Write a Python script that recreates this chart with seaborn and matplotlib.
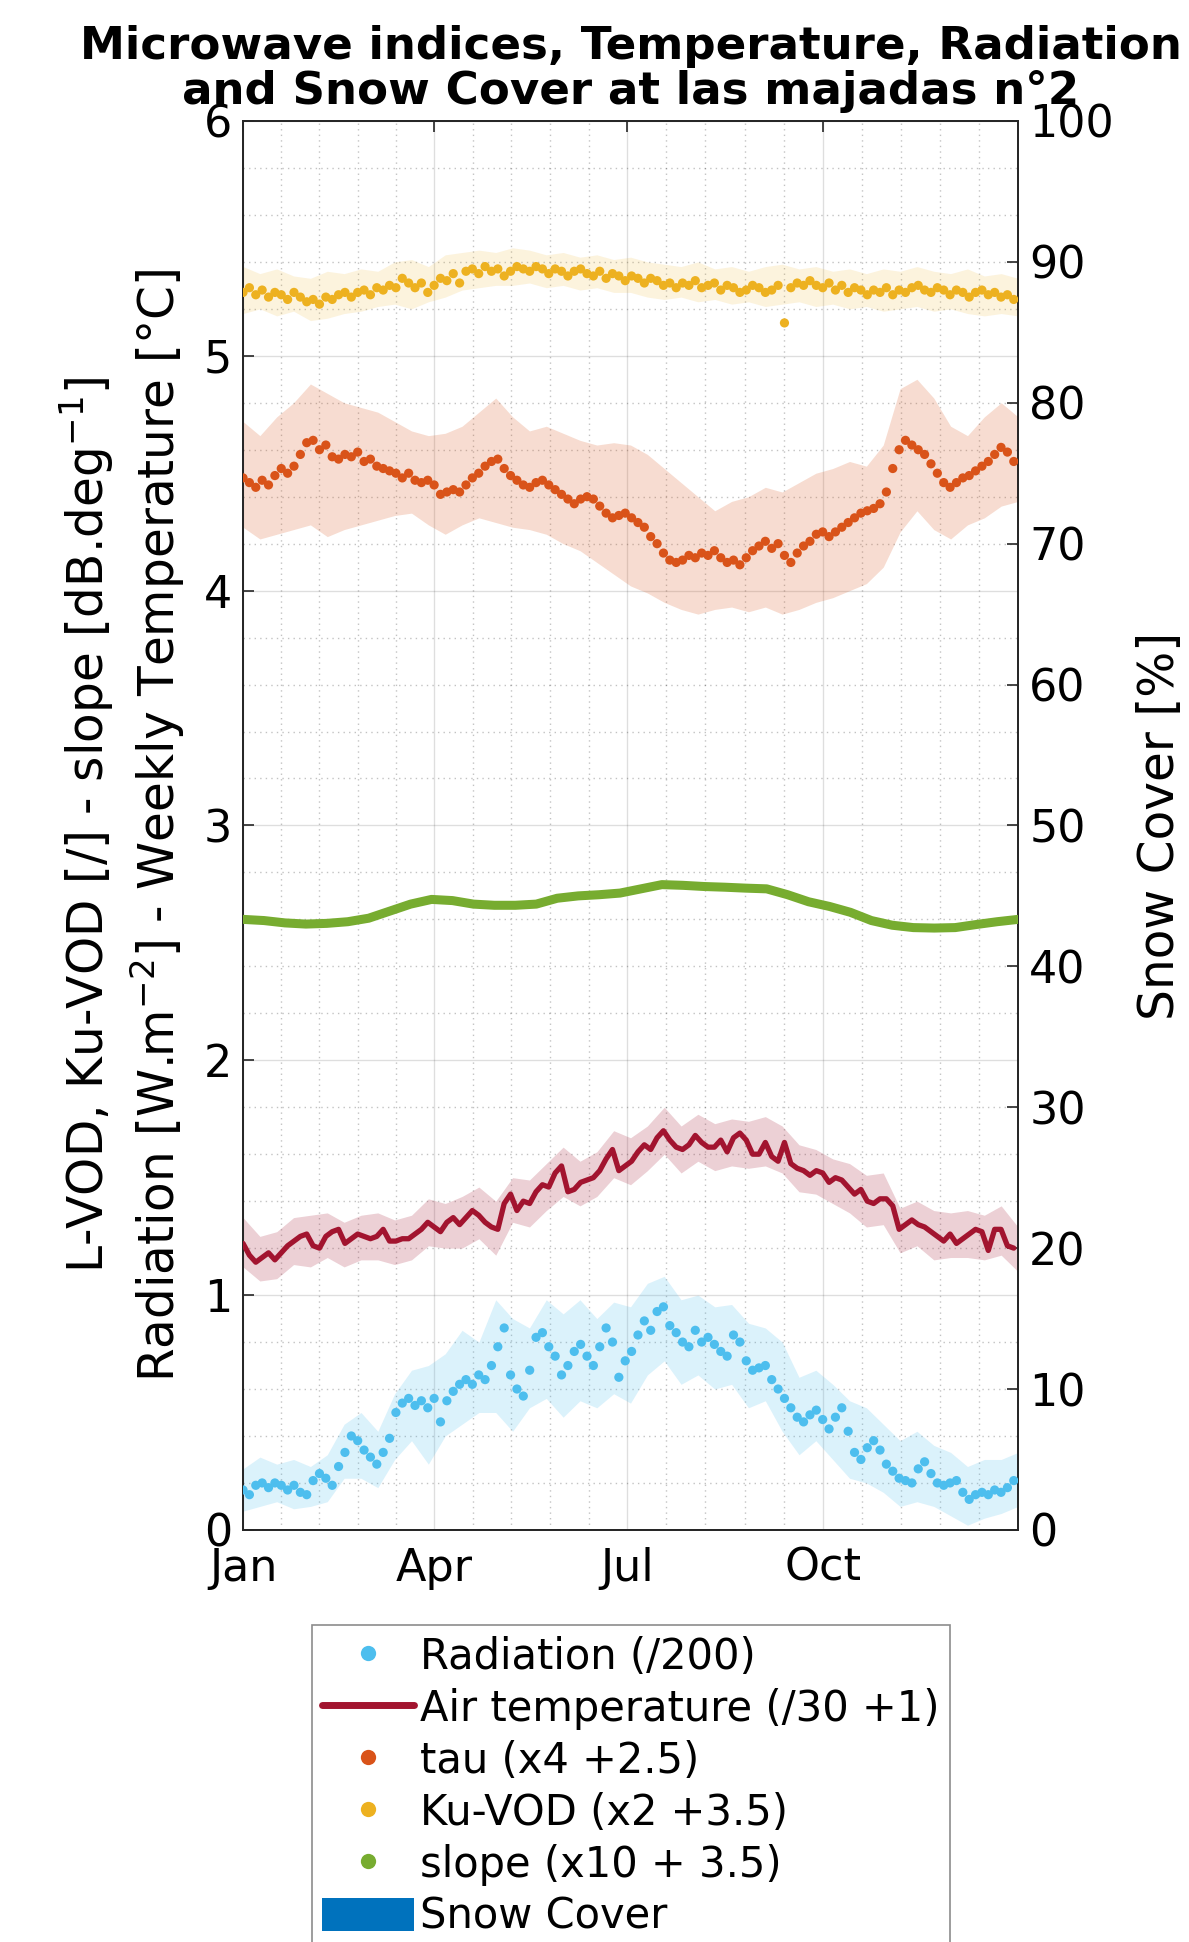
import numpy as np
import matplotlib
matplotlib.use("Agg")
import matplotlib.pyplot as plt
import seaborn as sns
from matplotlib.lines import Line2D
from matplotlib.patches import Patch
from matplotlib.ticker import MultipleLocator, FixedLocator

# ---------------------------------------------------------------- data
# daily-climatology samples, every 3 days (day of year, 0 = 1 Jan)
dot_day = np.arange(0, 366, 3)

radiation = [
    0.17, 0.15, 0.19, 0.20, 0.18, 0.20, 0.19, 0.17, 0.19, 0.16,
    0.15, 0.21, 0.24, 0.22, 0.19, 0.27, 0.33, 0.40, 0.38, 0.34,
    0.31, 0.28, 0.33, 0.39, 0.50, 0.54, 0.56, 0.53, 0.55, 0.52,
    0.56, 0.46, 0.55, 0.59, 0.62, 0.64, 0.62, 0.66, 0.64, 0.70,
    0.78, 0.86, 0.66, 0.60, 0.57, 0.68, 0.82, 0.84, 0.78, 0.74,
    0.66, 0.70, 0.76, 0.79, 0.74, 0.70, 0.78, 0.86, 0.80, 0.65,
    0.72, 0.76, 0.83, 0.89, 0.85, 0.93, 0.95, 0.87, 0.84, 0.80,
    0.78, 0.85, 0.80, 0.82, 0.79, 0.76, 0.74, 0.83, 0.80, 0.72,
    0.68, 0.69, 0.70, 0.64, 0.60, 0.56, 0.52, 0.48, 0.46, 0.49,
    0.51, 0.47, 0.43, 0.48, 0.52, 0.42, 0.33, 0.30, 0.35, 0.38,
    0.34, 0.28, 0.25, 0.22, 0.21, 0.20, 0.26, 0.29, 0.24, 0.20,
    0.19, 0.20, 0.21, 0.16, 0.13, 0.15, 0.16, 0.15, 0.17, 0.16,
    0.18, 0.21,
]

air_temp = [
    1.22, 1.17, 1.14, 1.16, 1.18, 1.15, 1.18, 1.21, 1.23, 1.25,
    1.26, 1.21, 1.20, 1.25, 1.27, 1.28, 1.22, 1.24, 1.26, 1.25,
    1.24, 1.25, 1.28, 1.23, 1.23, 1.24, 1.24, 1.26, 1.28, 1.31,
    1.29, 1.27, 1.31, 1.33, 1.30, 1.33, 1.36, 1.34, 1.31, 1.29,
    1.28, 1.39, 1.43, 1.36, 1.40, 1.39, 1.44, 1.47, 1.46, 1.52,
    1.55, 1.44, 1.45, 1.48, 1.49, 1.50, 1.53, 1.58, 1.62, 1.53,
    1.55, 1.57, 1.61, 1.64, 1.62, 1.67, 1.70, 1.66, 1.63, 1.62,
    1.64, 1.68, 1.65, 1.63, 1.63, 1.66, 1.61, 1.67, 1.69, 1.66,
    1.60, 1.60, 1.65, 1.59, 1.57, 1.65, 1.56, 1.54, 1.53, 1.51,
    1.53, 1.52, 1.48, 1.50, 1.49, 1.46, 1.43, 1.45, 1.40, 1.39,
    1.41, 1.41, 1.38, 1.28, 1.30, 1.32, 1.30, 1.29, 1.27, 1.25,
    1.23, 1.26, 1.22, 1.24, 1.26, 1.28, 1.27, 1.19, 1.28, 1.28,
    1.21, 1.20,
]

tau = [
    4.48, 4.46, 4.44, 4.47, 4.45, 4.49, 4.52, 4.50, 4.53, 4.58,
    4.63, 4.64, 4.60, 4.62, 4.57, 4.56, 4.58, 4.57, 4.59, 4.55,
    4.56, 4.53, 4.52, 4.51, 4.50, 4.48, 4.50, 4.47, 4.46, 4.47,
    4.45, 4.41, 4.42, 4.43, 4.42, 4.45, 4.48, 4.50, 4.53, 4.55,
    4.56, 4.52, 4.49, 4.47, 4.45, 4.44, 4.46, 4.47, 4.45, 4.43,
    4.41, 4.39, 4.37, 4.39, 4.40, 4.39, 4.36, 4.33, 4.31, 4.32,
    4.33, 4.31, 4.29, 4.27, 4.23, 4.20, 4.16, 4.13, 4.12, 4.13,
    4.15, 4.14, 4.16, 4.15, 4.17, 4.14, 4.12, 4.13, 4.11, 4.14,
    4.17, 4.19, 4.21, 4.18, 4.20, 4.15, 4.12, 4.16, 4.19, 4.21,
    4.24, 4.25, 4.23, 4.25, 4.27, 4.29, 4.31, 4.33, 4.34, 4.35,
    4.37, 4.42, 4.52, 4.60, 4.64, 4.62, 4.60, 4.58, 4.54, 4.50,
    4.46, 4.44, 4.46, 4.48, 4.49, 4.51, 4.53, 4.55, 4.58, 4.61,
    4.59, 4.55,
]

ku_vod = [
    5.27, 5.29, 5.26, 5.28, 5.25, 5.27, 5.26, 5.24, 5.27, 5.25,
    5.23, 5.24, 5.22, 5.25, 5.24, 5.26, 5.27, 5.25, 5.27, 5.28,
    5.26, 5.29, 5.28, 5.30, 5.29, 5.33, 5.31, 5.29, 5.31, 5.27,
    5.30, 5.33, 5.32, 5.35, 5.31, 5.36, 5.37, 5.35, 5.38, 5.36,
    5.37, 5.34, 5.36, 5.38, 5.37, 5.36, 5.38, 5.37, 5.35, 5.37,
    5.36, 5.34, 5.36, 5.37, 5.35, 5.34, 5.36, 5.33, 5.35, 5.34,
    5.32, 5.34, 5.33, 5.31, 5.33, 5.32, 5.30, 5.31, 5.29, 5.31,
    5.30, 5.32, 5.29, 5.30, 5.31, 5.28, 5.30, 5.29, 5.27, 5.28,
    5.30, 5.29, 5.27, 5.28, 5.30, 5.14, 5.29, 5.31, 5.30, 5.32,
    5.30, 5.29, 5.31, 5.28, 5.30, 5.27, 5.29, 5.28, 5.26, 5.28,
    5.27, 5.29, 5.26, 5.28, 5.27, 5.29, 5.30, 5.28, 5.27, 5.29,
    5.28, 5.26, 5.28, 5.27, 5.25, 5.27, 5.28, 5.26, 5.27, 5.25,
    5.26, 5.24,
]

# slope climatology (smooth), ~10-day samples
slope_day = np.linspace(0, 365, 38)
slope = [
    2.600, 2.595, 2.585, 2.580, 2.583, 2.590, 2.605, 2.635, 2.665, 2.685,
    2.680, 2.665, 2.660, 2.660, 2.665, 2.690, 2.700, 2.705, 2.712, 2.730,
    2.748, 2.745, 2.740, 2.737, 2.733, 2.730, 2.705, 2.675, 2.655, 2.630,
    2.595, 2.575, 2.565, 2.563, 2.565, 2.578, 2.590, 2.600,
]

# inter-annual spread envelopes, ~8-day samples
band_day = np.linspace(0, 365, 47)

radiation_hi = [
    0.26, 0.31, 0.28, 0.30, 0.27, 0.32, 0.45, 0.50, 0.42, 0.58,
    0.68, 0.70, 0.75, 0.85, 0.80, 0.98, 0.90, 0.86, 0.98, 0.92,
    0.98, 0.90, 0.97, 0.95, 1.05, 1.08, 0.98, 1.00, 0.95, 0.96,
    0.88, 0.86, 0.80, 0.65, 0.68, 0.62, 0.55, 0.52, 0.45, 0.38,
    0.42, 0.36, 0.33, 0.27, 0.30, 0.30, 0.33,
]
radiation_lo = [
    0.08, 0.10, 0.12, 0.09, 0.10, 0.12, 0.22, 0.22, 0.18, 0.30,
    0.38, 0.28, 0.40, 0.45, 0.50, 0.50, 0.42, 0.52, 0.56, 0.48,
    0.55, 0.52, 0.58, 0.54, 0.66, 0.72, 0.62, 0.66, 0.60, 0.62,
    0.52, 0.55, 0.42, 0.32, 0.38, 0.30, 0.22, 0.20, 0.16, 0.10,
    0.12, 0.10, 0.06, 0.02, 0.05, 0.07, 0.10,
]

air_temp_hi = [
    1.33, 1.25, 1.27, 1.33, 1.34, 1.35, 1.31, 1.34, 1.35, 1.32,
    1.34, 1.41, 1.39, 1.42, 1.46, 1.40, 1.50, 1.49, 1.56, 1.63,
    1.57, 1.61, 1.70, 1.67, 1.72, 1.80, 1.72, 1.77, 1.73, 1.75,
    1.74, 1.76, 1.72, 1.64, 1.62, 1.58, 1.56, 1.51, 1.52, 1.37,
    1.40, 1.36, 1.35, 1.36, 1.34, 1.38, 1.29,
]
air_temp_lo = [
    1.12, 1.06, 1.07, 1.13, 1.12, 1.16, 1.12, 1.15, 1.15, 1.13,
    1.15, 1.21, 1.20, 1.20, 1.24, 1.17, 1.31, 1.29, 1.36, 1.42,
    1.38, 1.42, 1.50, 1.47, 1.53, 1.60, 1.52, 1.57, 1.53, 1.55,
    1.54, 1.55, 1.52, 1.44, 1.43, 1.39, 1.35, 1.29, 1.30, 1.18,
    1.21, 1.15, 1.16, 1.16, 1.15, 1.17, 1.10,
]

tau_hi = [
    4.72, 4.66, 4.74, 4.80, 4.88, 4.84, 4.80, 4.78, 4.76, 4.72,
    4.68, 4.66, 4.67, 4.70, 4.76, 4.82, 4.74, 4.68, 4.70, 4.67,
    4.64, 4.62, 4.63, 4.62, 4.58, 4.52, 4.46, 4.40, 4.34, 4.38,
    4.40, 4.44, 4.42, 4.46, 4.50, 4.52, 4.55, 4.53, 4.62, 4.86,
    4.90, 4.82, 4.70, 4.66, 4.74, 4.80, 4.74,
]
tau_lo = [
    4.27, 4.22, 4.24, 4.26, 4.28, 4.23, 4.26, 4.28, 4.30, 4.32,
    4.33, 4.28, 4.24, 4.28, 4.31, 4.29, 4.27, 4.26, 4.24, 4.20,
    4.17, 4.12, 4.07, 4.02, 3.99, 3.95, 3.92, 3.90, 3.92, 3.93,
    3.91, 3.93, 3.90, 3.92, 3.95, 3.97, 4.00, 4.03, 4.10, 4.25,
    4.34, 4.26, 4.22, 4.28, 4.31, 4.36, 4.38,
]

ku_vod_hi = [
    5.38, 5.35, 5.37, 5.34, 5.33, 5.36, 5.35, 5.37, 5.36, 5.40,
    5.41, 5.38, 5.43, 5.44, 5.45, 5.44, 5.46, 5.45, 5.43, 5.44,
    5.42, 5.43, 5.41, 5.42, 5.40, 5.39, 5.38, 5.40, 5.37, 5.38,
    5.36, 5.38, 5.39, 5.37, 5.38, 5.36, 5.37, 5.35, 5.37, 5.36,
    5.38, 5.36, 5.35, 5.37, 5.34, 5.35, 5.33,
]
ku_vod_lo = [
    5.18, 5.20, 5.17, 5.19, 5.15, 5.16, 5.18, 5.19, 5.21, 5.22,
    5.20, 5.23, 5.25, 5.28, 5.29, 5.30, 5.30, 5.31, 5.29, 5.30,
    5.28, 5.29, 5.27, 5.27, 5.25, 5.24, 5.25, 5.23, 5.24, 5.22,
    5.23, 5.21, 5.22, 5.23, 5.21, 5.22, 5.20, 5.21, 5.19, 5.20,
    5.21, 5.19, 5.20, 5.18, 5.17, 5.18, 5.17,
]

# snow cover [%] (none recorded at this site)
snow_cover = [0.0] * 47

month_ticks = [0, 90, 181, 273]
month_labels = ["Jan", "Apr", "Jul", "Oct"]

labels = [
    "Radiation (/200)",
    "Air temperature (/30 +1)",
    "tau (x4 +2.5)",
    "Ku-VOD (x2 +3.5)",
    "slope (x10 + 3.5)",
    "Snow Cover",
]

# ---------------------------------------------------------------- style
c_rad = "#4DBEEE"
c_temp = "#A2142F"
c_tau = "#D95319"
c_ku = "#EDB120"
c_slope = "#77AC30"
c_snow = "#0072BD"
ink = "#262626"

sns.set_style("white")
plt.rcParams["font.family"] = ["DejaVu Sans"]
plt.rcParams["text.color"] = "black"
plt.rcParams["axes.labelcolor"] = "black"
FS_TICK = 32
FS_LABEL = 35
FS_LEG = 30

fig = plt.figure(figsize=(11.89, 19.42), dpi=100)
ax = fig.add_axes([0.2044, 0.2122, 0.6518, 0.7255])
ax2 = ax.twinx()

# envelopes
for hi, lo, c, a in [(radiation_hi, radiation_lo, c_rad, 0.2),
                     (air_temp_hi, air_temp_lo, c_temp, 0.2),
                     (tau_hi, tau_lo, c_tau, 0.2),
                     (ku_vod_hi, ku_vod_lo, c_ku, 0.15)]:
    ax.fill_between(band_day, lo, hi, color=c, alpha=a, lw=0)

# series
dot_kw = dict(s=44, edgecolor="none", linewidth=0, legend=False, zorder=3)
sns.scatterplot(x=dot_day, y=radiation, ax=ax, color=c_rad, **dot_kw)
sns.lineplot(x=dot_day, y=air_temp, ax=ax, color=c_temp, lw=3.8,
             legend=False, zorder=3)
sns.scatterplot(x=dot_day, y=tau, ax=ax, color=c_tau, **dot_kw)
sns.scatterplot(x=dot_day, y=ku_vod, ax=ax, color=c_ku, **dot_kw)
sns.lineplot(x=slope_day, y=slope, ax=ax, color=c_slope, lw=6.5,
             legend=False, zorder=3)

# snow cover on the right axis
ax2.fill_between(band_day, 0, snow_cover, color=c_snow, lw=0, step="mid")

# axes limits and ticks
ax.set_xlim(0, 365)
ax.set_ylim(0, 6)
ax2.set_ylim(0, 100)

ax.xaxis.set_major_locator(FixedLocator(month_ticks))
ax.set_xticklabels(month_labels)
quarters = [0, 90, 181, 273, 365]
minor_x = []
for a, b in zip(quarters[:-1], quarters[1:]):
    minor_x += list(np.linspace(a, b, 6)[1:-1])
ax.xaxis.set_minor_locator(FixedLocator(minor_x))
ax.yaxis.set_major_locator(MultipleLocator(1))
ax.yaxis.set_minor_locator(MultipleLocator(0.2))
ax2.yaxis.set_major_locator(MultipleLocator(10))

ax.tick_params(axis="both", which="major", direction="in", length=8,
               width=1.2, color=ink, labelsize=FS_TICK, labelcolor="black",
               pad=8)
ax.tick_params(axis="x", which="major", top=True, pad=12)
ax.tick_params(axis="y", which="major", right=False)
ax.tick_params(which="minor", length=0)
ax2.tick_params(axis="y", which="major", direction="in", length=8,
                width=1.2, color=ink, labelsize=FS_TICK, labelcolor="black",
                pad=8)

ax.grid(which="major", color=ink, alpha=0.15, lw=1.0, ls="-")
ax.grid(which="minor", color=ink, alpha=0.28, lw=1.0, ls=(0, (1, 3)))
ax.set_axisbelow(True)

for a in (ax, ax2):
    for s in a.spines.values():
        s.set_color(ink)
        s.set_linewidth(1.3)

ax.set_ylabel("L-VOD, Ku-VOD [/] - slope [dB.deg$^{-1}$]\n"
              "Radiation [W.m$^{-2}$] - Weekly Temperature [°C]",
              fontsize=FS_LABEL, labelpad=12, linespacing=1.25,
              color="black")
ax2.set_ylabel("Snow Cover [%]", fontsize=FS_LABEL, labelpad=16,
               color="black")
ax.set_title("Microwave indices, Temperature, Radiation\n"
             "and Snow Cover at las majadas n°2",
             fontsize=32.5, fontweight="bold", pad=12, linespacing=1.08,
             color="black")

ax.set_zorder(ax2.get_zorder() + 1)
ax.patch.set_visible(False)

# legend below the axes
mk = dict(ls="none", marker="o", ms=11, mec="none")
handles = [
    Line2D([], [], color=c_rad, **mk),
    Line2D([], [], color=c_temp, lw=5),
    Line2D([], [], color=c_tau, **mk),
    Line2D([], [], color=c_ku, **mk),
    Line2D([], [], color=c_slope, **mk),
    Patch(facecolor=c_snow, edgecolor="none"),
]
leg = fig.legend(handles, labels, loc="upper left",
                 bbox_to_anchor=(0.262, 0.163), fontsize=FS_LEG,
                 frameon=True, fancybox=False, edgecolor="#8c8c8c",
                 framealpha=1, handlelength=2.2, handleheight=0.85,
                 handletextpad=0.15, labelspacing=0.24, borderpad=0.25,
                 borderaxespad=0)
leg.get_frame().set_linewidth(1.2)
for t in leg.get_texts():
    t.set_color("black")

fig.savefig("out.png", dpi=100)
